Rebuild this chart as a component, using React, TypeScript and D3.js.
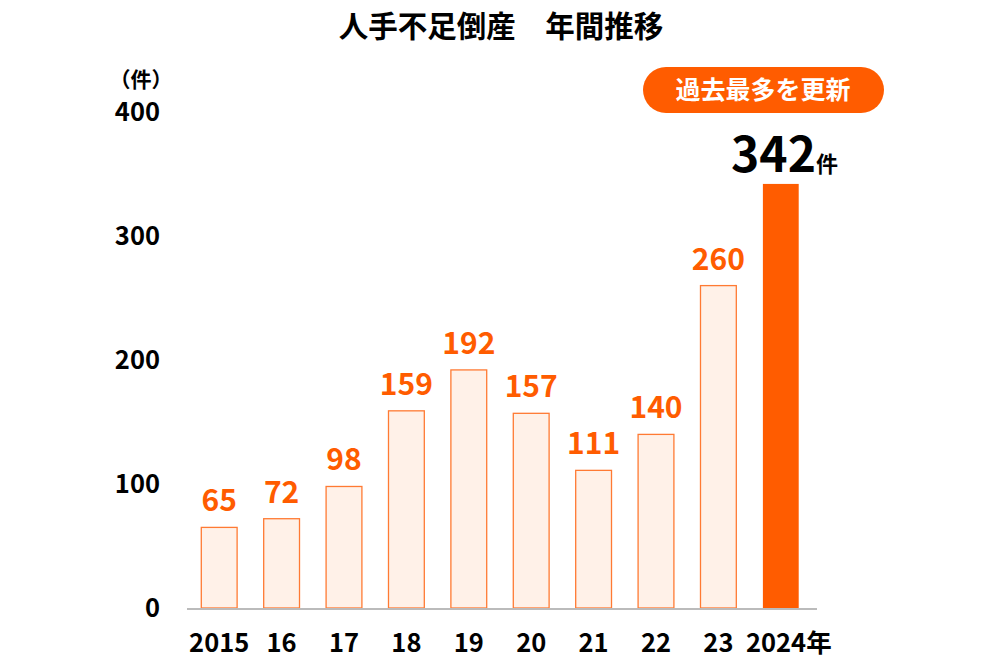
import * as d3 from 'd3';
import React, { useRef, useEffect } from 'react';

const years = ['2015', '16', '17', '18', '19', '20', '21', '22', '23', '2024'];
const counts = [65, 72, 98, 159, 192, 157, 111, 140, 260, 342];
const yTicks = [0, 100, 200, 300, 400];

const width = 1000;
const height = 665;
const font = '"Noto Sans CJK JP", "Noto Sans", sans-serif';
const orange = '#ff5c00';

export default function App() {
    const ref = useRef<SVGSVGElement | null>(null);

    useEffect(() => {
        const svg = d3.select(ref.current);
        svg.selectAll('*').remove();

        const x = d3
            .scaleBand<string>()
            .domain(years)
            .range([188, 812])
            .paddingInner(0.41)
            .paddingOuter(0.205);

        const y = d3.scaleLinear().domain([0, 400]).range([608, 112]);

        // title
        svg.append('text')
            .attr('x', 501)
            .attr('y', 37)
            .attr('text-anchor', 'middle')
            .style('font-family', font)
            .style('font-weight', 700)
            .style('font-size', '29.5px')
            .text('人手不足倒産　年間推移');

        // unit
        svg.append('text')
            .attr('x', 141)
            .attr('y', 87)
            .attr('text-anchor', 'middle')
            .style('font-family', font)
            .style('font-weight', 700)
            .style('font-size', '21px')
            .text('（件）');

        // y tick labels
        svg.selectAll('text.ytick')
            .data(yTicks)
            .join('text')
            .attr('class', 'ytick')
            .attr('x', 160)
            .attr('y', (d) => y(d))
            .attr('dy', '0.36em')
            .attr('text-anchor', 'end')
            .style('font-family', font)
            .style('font-weight', 700)
            .style('font-size', '25.5px')
            .text((d) => d);

        const last = years.length - 1;

        // bars
        svg.selectAll('rect.bar')
            .data(counts)
            .join('rect')
            .attr('class', 'bar')
            .attr('x', (_, i) => x(years[i])! + 0.5)
            .attr('y', (d) => y(d))
            .attr('width', x.bandwidth() - 1)
            .attr('height', (d) => y(0) - y(d))
            .attr('fill', (_, i) => (i === last ? orange : '#fff1e8'))
            .attr('stroke', (_, i) => (i === last ? 'none' : '#ff7a33'))
            .attr('stroke-width', 1.3);

        // axis line
        svg.append('line')
            .attr('x1', 187)
            .attr('x2', 817)
            .attr('y1', y(0) + 1)
            .attr('y2', y(0) + 1)
            .attr('stroke', '#bbbbbb')
            .attr('stroke-width', 2);

        // value labels
        svg.selectAll('text.val')
            .data(counts.slice(0, last))
            .join('text')
            .attr('class', 'val')
            .attr('x', (_, i) => x(years[i])! + x.bandwidth() / 2)
            .attr('y', (d) => y(d) - 16)
            .attr('text-anchor', 'middle')
            .style('font-family', font)
            .style('font-weight', 700)
            .style('font-size', '30px')
            .attr('fill', orange)
            .text((d) => d);

        // x labels
        svg.selectAll('text.xtick')
            .data(years)
            .join('text')
            .attr('class', 'xtick')
            .attr('x', (d, i) => x(d)! + x.bandwidth() / 2 + (i === last ? 8 : 0))
            .attr('y', 652)
            .attr('text-anchor', 'middle')
            .style('font-family', font)
            .style('font-weight', 700)
            .style('font-size', '25.5px')
            .text((d, i) => (i === last ? d + '年' : d));

        // highlight callout
        const big = svg.append('text')
            .attr('x', 731)
            .attr('y', y(counts[last]) - 12)
            .attr('text-anchor', 'start')
            .style('font-family', font)
            .style('font-weight', 700);
        big.append('tspan').style('font-size', '48px').text(counts[last]);
        big.append('tspan').style('font-size', '22px').attr('dx', 0).text('件');

        svg.append('rect')
            .attr('x', 643)
            .attr('y', 67)
            .attr('width', 241)
            .attr('height', 46)
            .attr('rx', 23)
            .attr('fill', orange);
        svg.append('text')
            .attr('x', 763)
            .attr('y', 90)
            .attr('dy', '0.36em')
            .attr('text-anchor', 'middle')
            .style('font-family', font)
            .style('font-weight', 700)
            .style('font-size', '25px')
            .attr('fill', '#fff')
            .text('過去最多を更新');
    }, []);

    return (
        <svg
            ref={ref}
            width={width}
            height={height}
            style={{ position: 'absolute', left: 0, top: 0, background: '#fff' }}
        />
    );
}
